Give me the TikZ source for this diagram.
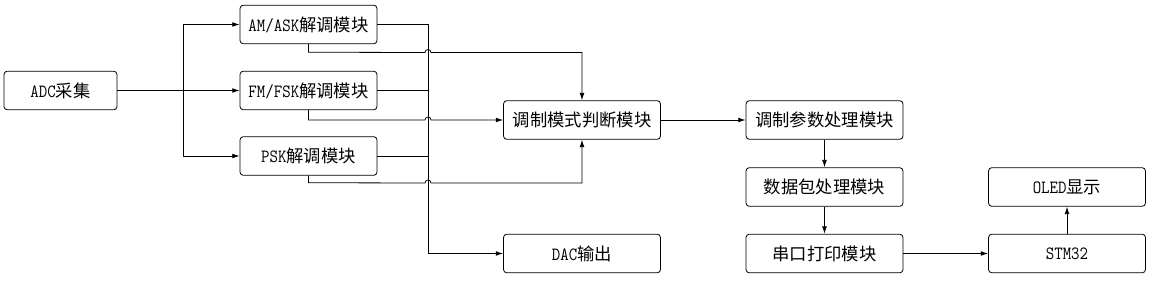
\documentclass[tikz,border=0pt]{standalone}
\usepackage{fontspec}
\setmainfont{Noto Sans CJK SC}
\newfontfamily\latin{Latin Modern Mono}[FakeStretch=0.88]
\usepackage{tikz}
\usetikzlibrary{arrows.meta,positioning,calc}

\tikzset{
  blk/.style={draw,rounded corners=2.5pt,line width=0.6pt,inner sep=0pt,minimum height=29pt,font=\fontsize{13}{15}\selectfont},
  small/.style={blk,minimum width=84.75pt},
  demod/.style={blk,minimum width=102.75pt},
  wide/.style={blk,minimum width=117.75pt},
  link/.style={line width=0.6pt,-{Latex[length=5.5pt,width=3.6pt]}},
  wire/.style={line width=0.6pt}
}
\newcommand{\lt}[1]{{\latin\fontsize{14}{15}\selectfont #1}}

\begin{document}
\begin{tikzpicture}[x=0.75pt,y=-0.75pt]
  \useasboundingbox (0,0) rectangle (1168,282);
  % nodes
  \node[small] (adc) at (60.5,90.5) {\lt{ADC}采集};
  \node[demod] (am) at (308.5,24.5) {\lt{AM/ASK}解调模块};
  \node[demod] (fm) at (308.5,90.5) {\lt{FM/FSK}解调模块};
  \node[demod] (psk) at (308.5,156) {\lt{PSK}解调模块};
  \node[wide] (mode) at (582,120) {调制模式判断模块};
  \node[wide] (dac) at (582,253.5) {\lt{DAC}输出};
  \node[wide] (param) at (824.5,120) {调制参数处理模块};
  \node[wide] (pack) at (824.5,187) {数据包处理模块};
  \node[wide] (uart) at (824.5,253.5) {串口打印模块};
  \node[wide] (stm) at (1067,253.5) {\lt{STM32}};
  \node[wide] (oled) at (1067,187) {\lt{OLED}显示};
  \coordinate (br) at (183,90.5);
  \coordinate (bus) at (428,24.5);
  % ADC to demodulators
  \draw[link] (adc) -- (fm);
  \draw[link] (br) |- (am);
  \draw[link] (br) |- (psk);
  % demodulators to DAC
  \draw[link] (am.east) -- (bus) |- (dac.west);
  \draw[wire] (fm.east) -- (fm.east -| bus);
  \draw[wire] (psk.east) -- (psk.east -| bus);
  % demodulators to mode judge, hopping over the bus
  \draw[link] (am.south) -- ++(0,8) -- ($(bus|-0,52.5)-(3,0)$) arc (180:360:3) -- (mode.north|-0,52.5) -- (mode.north);
  \draw[link] (fm.south) -- (fm.south|-mode.west) -- ($(bus|-mode.west)-(3,0)$) arc (180:360:3) -- (mode.west);
  \draw[link] (psk.south) -- ++(0,7) -- ($(bus|-0,183)-(3,0)$) arc (180:360:3) -- (mode.south|-0,183) -- (mode.south);
  % processing chain
  \draw[link] (mode) -- (param);
  \draw[link] (param) -- (pack);
  \draw[link] (pack) -- (uart);
  \draw[link] (uart) -- (stm);
  \draw[link] (stm) -- (oled);
\end{tikzpicture}
\end{document}
